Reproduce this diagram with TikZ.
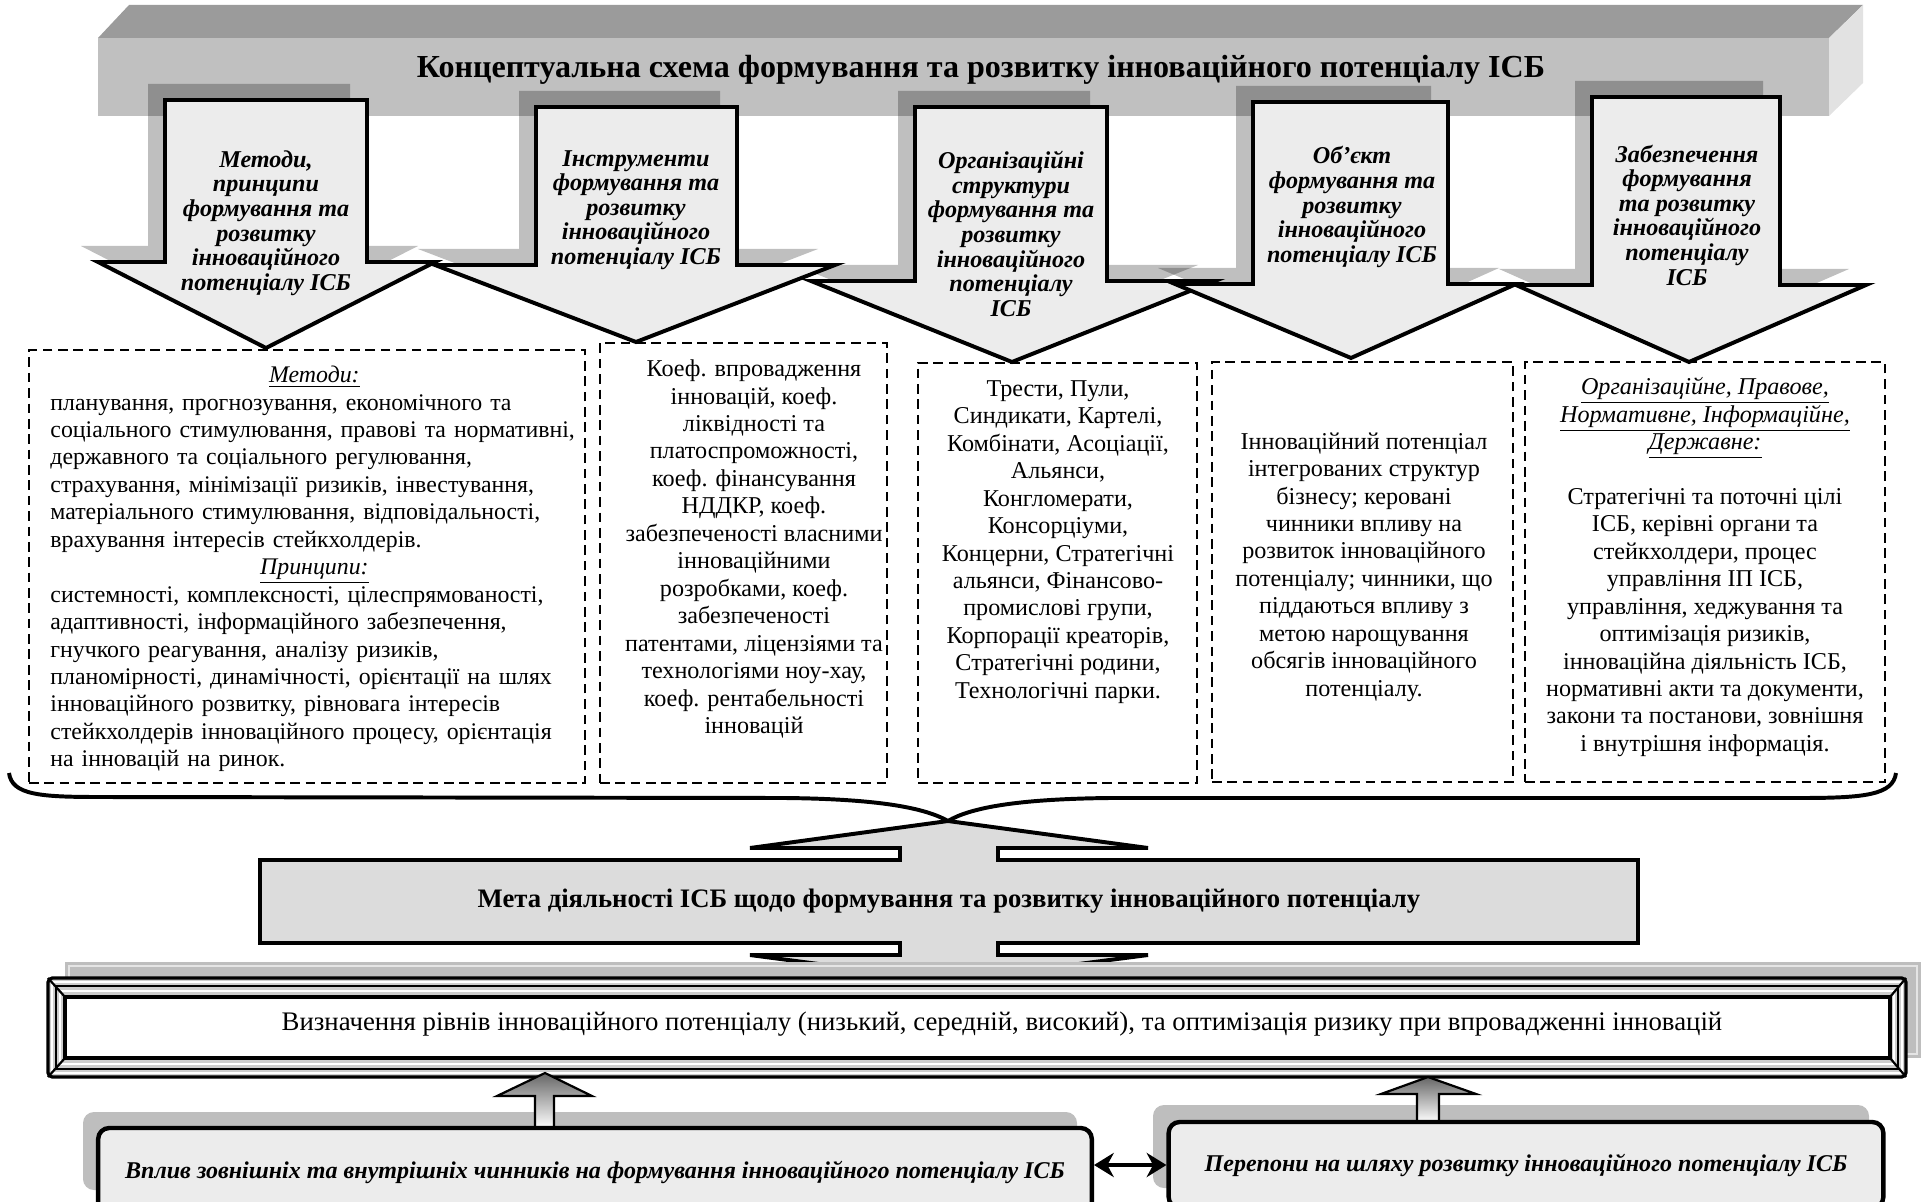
\documentclass[tikz,border=0pt]{standalone}
\usepackage{fontspec}
\setmainfont{Liberation Serif}
\usepackage{tikz}
\usetikzlibrary{arrows.meta, positioning, fit}
\definecolor{bartop}{RGB}{155,155,155}
\definecolor{barfront}{RGB}{192,192,192}
\definecolor{barside}{RGB}{226,226,226}
\definecolor{arrowfill}{RGB}{236,236,236}
\definecolor{goalfill}{RGB}{220,220,220}
\definecolor{shadowgray}{RGB}{190,190,190}
\definecolor{framegray}{RGB}{205,205,205}
\newcommand{\ulit}[1]{\underline{\textit{#1}}}
\tikzset{
  bigarrow/.style={draw=black, fill=arrowfill, line width=1.8pt},
  arrowshadow/.style={fill=black, opacity=0.25},
  arrowtext/.style={align=center, inner sep=0pt,
    font=\bfseries\itshape\fontsize{11}{11.2}\selectfont},
  dashbox/.style={draw=black, line width=1.2pt, dash pattern=on 4.4pt off 2.6pt, inner sep=0pt},
  boxtext/.style={inner sep=0pt, font=\fontsize{11}{12.5}\selectfont},
  bracket/.style={line width=1.8pt, color=black},
  goalarrow/.style={draw=black, fill=goalfill, line width=1.8pt},
  uparrow/.style={draw=black, line width=1pt, top color=black!60, bottom color=white},
  factorbox/.style={draw=black, fill=arrowfill, line width=2pt, rounded corners=5pt,
    inner sep=0pt, font=\bfseries\itshape\fontsize{10.95}{14}\selectfont},
  boxshadow/.style={fill=shadowgray, rounded corners=5pt},
  dblarrow/.style={{Stealth[length=9pt,width=11pt]}-{Stealth[length=9pt,width=11pt]}, line width=1.5pt}
}

\begin{document}
\begin{tikzpicture}[x=0.016cm, y=-0.016cm]
  \useasboundingbox (0,0) rectangle (1923,1202);
  \clip (0,0) rectangle (1923,1202);
  % title bar
  \fill[bartop] (98,38) -- (129,5) -- (1863,5) -- (1829,38) -- cycle;
  \fill[barside] (1829,38) -- (1863,5) -- (1863,83) -- (1829,116) -- cycle;
  \fill[barfront] (98,38) rectangle (1829,116);
  \node[font=\bfseries\fontsize{14.6}{17}\selectfont] (title) at (981,70)
    {Концептуальна схема формування та розвитку інноваційного потенціалу ІСБ};
  % block arrows
  \foreach \xl/\xr/\yt/\ys/\wl/\wr/\xt/\yb in {165/367/100/262/98/435/266/348,
      536/737/107/265/435/835/636/342, 915/1107/107/281/811/1215/1012/362,
      1253/1448/102/284/1175/1516/1351/358, 1592/1780/97/285/1516/1866/1689/362}
    \fill[arrowshadow, shift={(-17,-16)}] (\xl,\yt) -- (\xr,\yt) -- (\xr,\ys) -- (\wr,\ys)
      -- (\xt,\yb) -- (\wl,\ys) -- (\xl,\ys) -- cycle;
  \foreach \xl/\xr/\yt/\ys/\wl/\wr/\xt/\yb in {165/367/100/262/98/435/266/348,
      536/737/107/265/435/835/636/342, 915/1107/107/281/811/1215/1012/362,
      1253/1448/102/284/1175/1516/1351/358, 1592/1780/97/285/1516/1866/1689/362}
    \draw[bigarrow] (\xl,\yt) -- (\xr,\yt) -- (\xr,\ys) -- (\wr,\ys)
      -- (\xt,\yb) -- (\wl,\ys) -- (\xl,\ys) -- cycle;
  \node[arrowtext] (m1) at (266,223) {Методи,\\принципи\\формування та\\розвитку\\інноваційного\\потенціалу ІСБ};
  \node[arrowtext] (m2) at (636,210) {Інструменти\\формування та\\розвитку\\інноваційного\\потенціалу ІСБ};
  \node[arrowtext] (m3) at (1011,234) {Організаційні\\структури\\формування та\\розвитку\\інноваційного\\потенціалу\\ІСБ};
  \begin{scope}
    \clip (1253,102) rectangle (1447,284);
    \node[arrowtext] (m4) at (1352,207) {Об’єкт\\формування та\\розвитку\\інноваційного\\потенціалу ІСБ};
  \end{scope}
  \node[arrowtext] (m5) at (1687,215) {Забезпечення\\формування\\та розвитку\\інноваційного\\потенціалу\\ІСБ};
  % dashed boxes
  \node[dashbox, fit={(29,350) (585,783)}] (box1) {};
  \node[dashbox, fit={(600,343) (887,783)}] (box2) {};
  \node[dashbox, fit={(918,363) (1197,783)}] (box3) {};
  \node[dashbox, fit={(1212,362) (1513,782)}] (box4) {};
  \node[dashbox, fit={(1525,362) (1885,782)}] (box5) {};
  \node[boxtext, font=\fontsize{10.85}{12.5}\selectfont, text width=8.8cm, align=left,
    anchor=west] (t1) at (50,569) {%
    \makebox[8.45cm][c]{\ulit{Методи:}}\\
    планування, прогнозування, економічного та\\
    соціального стимулювання, правові та нормативні,\\
    державного та соціального регулювання,\\
    страхування, мінімізації ризиків, інвестування,\\
    матеріального стимулювання, відповідальності,\\
    врахування інтересів стейкхолдерів.\\
    \makebox[8.45cm][c]{\ulit{Принципи:}}\\
    системності, комплексності, цілеспрямованості,\\
    адаптивності, інформаційного забезпечення,\\
    гнучкого реагування, аналізу ризиків,\\
    планомірності, динамічності, орієнтації на шлях\\
    інноваційного розвитку, рівновага інтересів\\
    стейкхолдерів інноваційного процесу, орієнтація\\
    на інновацій на ринок.};
  \node[boxtext, align=center] (t2) at (754,549) {Коеф. впровадження\\інновацій, коеф.\\ліквідності та\\платоспроможності,\\коеф. фінансування\\НДДКР, коеф.\\забезпеченості власними\\інноваційними\\розробками, коеф.\\забезпеченості\\патентами, ліцензіями та\\технологіями ноу-хау,\\коеф. рентабельності\\інновацій};
  \node[boxtext, align=center] (t3) at (1058,542) {Трести, Пули,\\Синдикати, Картелі,\\Комбінати, Асоціації,\\Альянси,\\Конгломерати,\\Консорціуми,\\Концерни, Стратегічні\\альянси, Фінансово-\\промислові групи,\\Корпорації креаторів,\\Стратегічні родини,\\Технологічні парки.};
  \node[boxtext, align=center] (t4) at (1364,567) {Інноваційний потенціал\\інтегрованих структур\\бізнесу; керовані\\чинники впливу на\\розвиток інноваційного\\потенціалу; чинники, що\\піддаються впливу з\\метою нарощування\\обсягів інноваційного\\потенціалу.};
  \node[boxtext, align=center] (t5) at (1705,567) {\ulit{Організаційне, Правове,}\\\ulit{Нормативне, Інформаційне,}\\\ulit{Державне:}\\[12.5pt]Стратегічні та поточні цілі\\ІСБ, керівні органи та\\стейкхолдери, процес\\управління ІП ІСБ,\\управління, хеджування та\\оптимізація ризиків,\\інноваційна діяльність ІСБ,\\нормативні акти та документи,\\закони та постанови, зовнішня\\і внутрішня інформація.};
  % brace
  \draw[bracket] (9,773) .. controls (12,795) and (40,797) .. (100,797) -- (785,798)
    .. controls (880,799) and (925,808) .. (948,821);
  \draw[bracket] (1896,773) .. controls (1893,795) and (1865,798) .. (1800,798) -- (1110,798)
    .. controls (1015,799) and (970,808) .. (948,821);
  % goal arrow
  \draw[goalarrow] (948,821) -- (1148,848) -- (998,848) -- (998,860) -- (1638,860) -- (1638,943)
    -- (998,943) -- (998,955) -- (1148,955) -- (948,981) -- (750,955) -- (900,955) -- (900,943)
    -- (260,943) -- (260,860) -- (900,860) -- (900,848) -- (750,848) -- cycle;
  \node[font=\bfseries\fontsize{12.15}{14}\selectfont] (goal) at (949,901)
    {Мета діяльності ІСБ щодо формування та розвитку інноваційного потенціалу};
  % levels frame
  \fill[shadowgray] (65,962) rectangle (1921,1058);
  \draw[black!10, line width=0.8pt] (69,966) rectangle (1917,1054);
  \draw[line width=1.5pt, fill=framegray, rounded corners=2pt] (48,978) rectangle (1906,1077);
  \draw[white, line width=1pt] (52,982) rectangle (1902,1073);
  \draw[black, line width=1pt] (56,986) rectangle (1898,1069);
  \draw[white, line width=1pt] (60,991) rectangle (1894,1064);
  \draw[line width=1pt] (48,978) -- (65,997) (1906,978) -- (1890,997)
    (48,1077) -- (65,1058) (1906,1077) -- (1890,1058);
  \node[draw=black, line width=1.5pt, fill=white, fit={(65,997) (1890,1058)}, inner sep=0pt] (levels) {};
  \node[font=\fontsize{12.2}{14}\selectfont] (levtext) at (1002,1024)
    {Визначення рівнів інноваційного потенціалу (низький, середній, високий), та оптимізація ризику при впровадженні інновацій};
  % bottom boxes
  \fill[boxshadow] (83,1112) rectangle (1077,1190);
  \fill[boxshadow] (1153,1105) rectangle (1869,1188);
  \shade[uparrow] (545,1073) -- (592,1096) -- (554,1096) -- (554,1128) -- (535,1128)
    -- (535,1096) -- (497,1096) -- cycle;
  \shade[uparrow] (1428,1077) -- (1476,1094) -- (1439,1094) -- (1439,1122) -- (1417,1122)
    -- (1417,1094) -- (1381,1094) -- cycle;
  \node[factorbox, minimum width=15.904cm, minimum height=1.408cm] (infl) at (595,1172)
    {Вплив зовнішніх та внутрішніх чинників на формування інноваційного потенціалу ІСБ};
  \node[factorbox, minimum width=11.44cm, minimum height=1.376cm] (barr) at (1526,1165)
    {Перепони на шляху розвитку інноваційного потенціалу ІСБ};
  \draw[dblarrow] (infl.east |- barr.west) -- (barr.west);
\end{tikzpicture}
\end{document}
